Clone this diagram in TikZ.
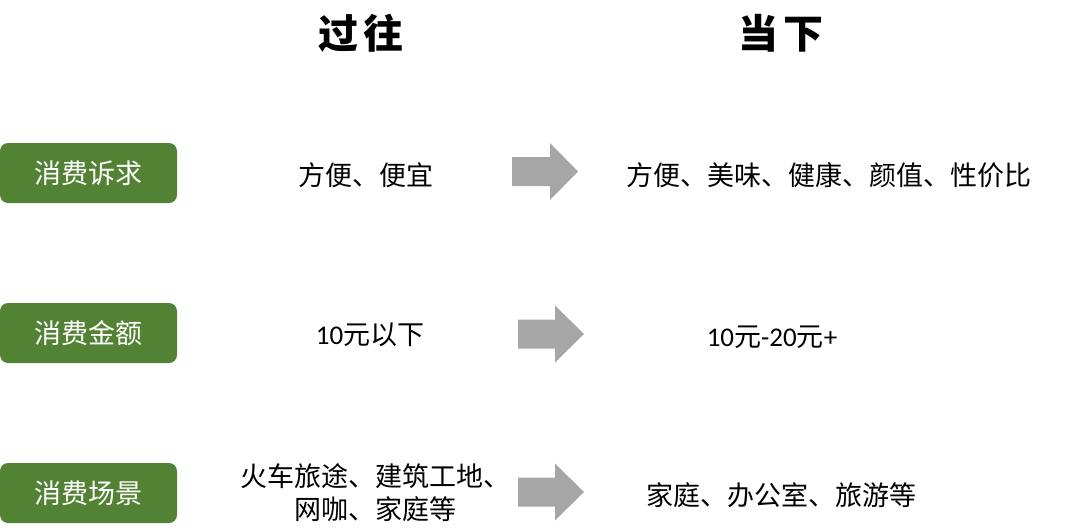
\documentclass[tikz,border=0pt]{standalone}
\usepackage{fontspec}
\usepackage{tikz}
\newfontfamily\cjk{Noto Sans CJK SC}
\newfontfamily\lat{Carlito}
\definecolor{tagGreen}{HTML}{548235}
\definecolor{arrowGray}{HTML}{A6A6A6}

\begin{document}
\begin{tikzpicture}[x=1pt,y=-1pt,
                    head/.style={font=\cjk\bfseries\fontsize{40}{40}\selectfont},
                    tag/.style={fill=tagGreen,rounded corners=8pt,text=white,minimum width=177pt,minimum height=60pt,inner sep=0pt,font=\cjk\fontsize{27}{27}\selectfont},
                    item/.style={text=black,inner sep=0pt,align=center,font=\cjk\fontsize{27}{33}\selectfont}]
                    \useasboundingbox (0,0) rectangle (1080,531);
                    \node[head] (past) at (361,33) {过\hspace{5pt}往};
                    \node[head] (now) at (781,33) {当\hspace{5pt}下};
                    \node[tag] (want) at (88.5,173) {消费诉求};
                    \node[tag] (money) at (88.5,333) {消费金额};
                    \node[tag] (scene) at (88.5,493) {消费场景};
                    \node[item] (wantA) at (366,175) {方便、便宜};
                    \node[item] (wantB) at (829,175) {方便、美味、健康、颜值、性价比};
                    \node[item] (moneyA) at (370,335) {{\lat 10}元以下};
                    \node[item] (moneyB) at (772,337) {{\lat 10}元{\lat -20}元{\lat +}};
                    \node[item] (sceneA) at (375,493) {火车旅途、建筑工地、\\网咖、家庭等};
                    \node[item] (sceneB) at (781,495) {家庭、办公室、旅游等};
                    \foreach \xa/\xb/\xc/\yc in {512/550/578/171.5, 518/555/584/334, 518/555/584/492}
                        \fill[arrowGray] (\xa,\yc-14.5) -- (\xb,\yc-14.5) -- (\xb,\yc-28.5) -- (\xc,\yc)
                            -- (\xb,\yc+28.5) -- (\xb,\yc+14.5) -- (\xa,\yc+14.5) -- cycle;
               \end{tikzpicture}
\end{document}
